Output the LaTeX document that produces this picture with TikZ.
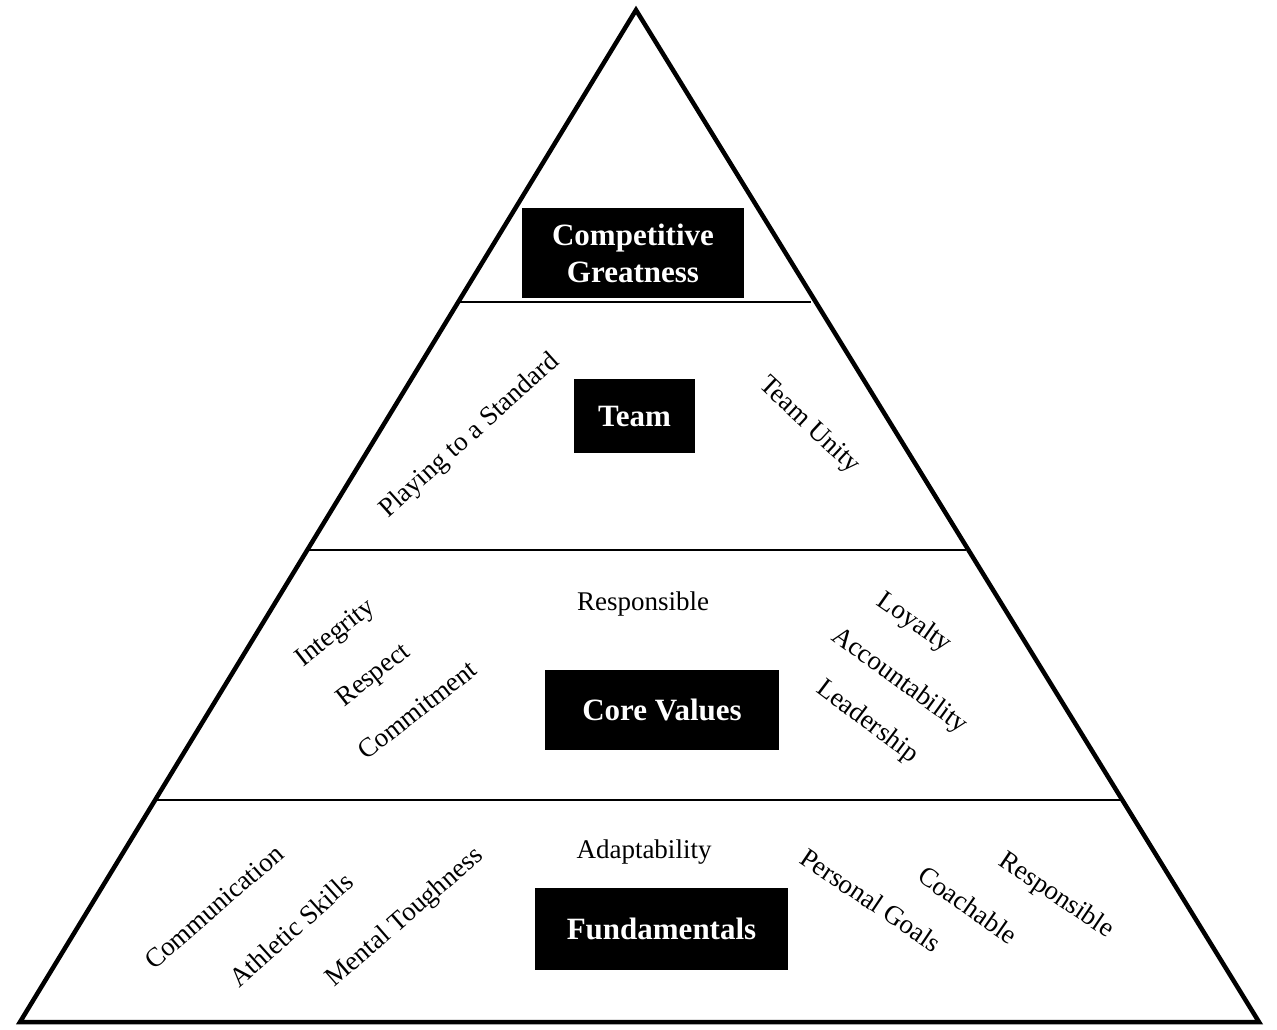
\documentclass[tikz,border=0pt]{standalone}
\usepackage{fontspec}
\setmainfont{Liberation Serif}
\begin{document}
\begin{tikzpicture}[x=1pt, y=-1pt,
    tierbox/.style={rectangle, fill=black, text=white, inner sep=0pt,
              text centered, align=center,
              font=\fontsize{31}{37}\selectfont\bfseries},
    word/.style={inner sep=0pt, font=\fontsize{27}{30}\selectfont},
    outline/.style={line width=4.5pt, line join=miter},
    divider/.style={line width=2.5pt}
]
    \useasboundingbox (0,0) rectangle (1277,1029);

    % pyramid outline
    \coordinate (apex)  at (636, 10);
    \coordinate (bl)    at (20, 1022);
    \coordinate (br)    at (1259, 1022);
    \draw[outline] (apex) -- (br) -- (bl) -- cycle;

    % tier dividers
    \draw[divider] (459, 302) -- (811, 302);
    \draw[divider] (308, 550) -- (966, 550);
    \draw[divider] (157, 800) -- (1120, 800);

    % tier titles
    \node[tierbox, minimum width=222, minimum height=90] (greatness)
        at (633, 253) {Competitive\\Greatness};
    \node[tierbox, minimum width=121, minimum height=74] (team)
        at (634.5, 416) {Team};
    \node[tierbox, minimum width=234, minimum height=80] (values)
        at (662, 710) {Core Values};
    \node[tierbox, minimum width=253, minimum height=82] (basics)
        at (661.5, 929) {Fundamentals};

    % team
    \node[word, rotate=42] (standard) at (470, 436) {Playing to a Standard};
    \node[word, rotate=-43] (unity) at (809, 426) {Team Unity};

    % core values
    \node[word] (responsible) at (643, 604) {Responsible};
    \node[word, rotate=38] (integrity) at (336, 634) {Integrity};
    \node[word, rotate=38] (respect) at (374, 676) {Respect};
    \node[word, rotate=38] (commitment) at (417, 710) {Commitment};
    \node[word, rotate=-35] (loyalty) at (914, 623) {Loyalty};
    \node[word, rotate=-36] (accountability) at (899, 681) {Accountability};
    \node[word, rotate=-37] (leadership) at (867, 722) {Leadership};

    % fundamentals
    \node[word] (adaptability) at (644, 852) {Adaptability};
    \node[word, rotate=41] (communication) at (214, 907) {Communication};
    \node[word, rotate=42] (athletic) at (291, 930) {Athletic Skills};
    \node[word, rotate=41] (toughness) at (405, 918) {Mental Toughness};
    \node[word, rotate=-34] (goals) at (871, 900) {Personal Goals};
    \node[word, rotate=-35] (coachable) at (968, 905) {Coachable};
    \node[word, rotate=-34] (responsible2) at (1056, 896) {Responsible};
\end{tikzpicture}
\end{document}
